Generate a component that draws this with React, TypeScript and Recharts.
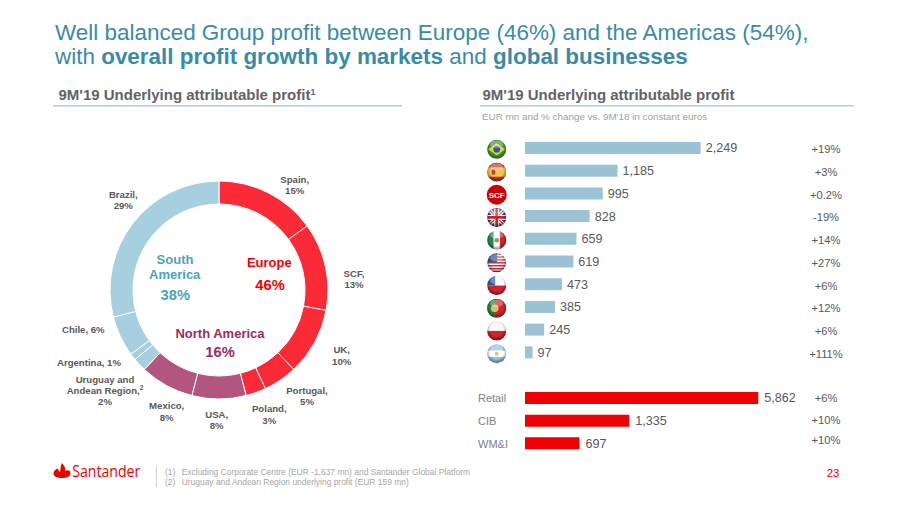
import { PieChart, Pie, Cell, BarChart, Bar, XAxis, YAxis, LabelList } from 'recharts'

const regions = ['Spain', 'SCF', 'UK', 'Portugal', 'Poland', 'USA', 'Mexico', 'Uruguay and Andean Region', 'Argentina', 'Chile', 'Brazil']
const regionShares = [15, 13, 10, 5, 3, 8, 8, 2, 1, 6, 29]
const regionColors = ['#fb2a37', '#fb2a37', '#fb2a37', '#fb2a37', '#fb2a37', '#b25680', '#b25680', '#a6cfe0', '#a6cfe0', '#a6cfe0', '#a6cfe0']

const markets = ['Brazil', 'Spain', 'SCF', 'UK', 'Mexico', 'USA', 'Chile', 'Portugal', 'Poland', 'Argentina']
const marketProfit = [2249, 1185, 995, 828, 659, 619, 473, 385, 245, 97]
const marketChange = ['+19%', '+3%', '+0.2%', '-19%', '+14%', '+27%', '+6%', '+12%', '+6%', '+111%']

const businesses = ['Retail', 'CIB', 'WM&I']
const businessProfit = [5862, 1335, 697]
const businessChange = ['+6%', '+10%', '+10%']

// the slide cuts the Retail bar short, so the long bar stops here and keeps its real label
const barCap = 2987
const axisMax = 4238

const pieData = regions.map((name, i) => ({ name, value: regionShares[i] }))
const marketData = markets.map((name, i) => ({ name, value: marketProfit[i], change: marketChange[i] }))
const businessData = businesses.map((name, i) => ({
  name,
  value: businessProfit[i],
  shown: Math.min(businessProfit[i], barCap),
  change: businessChange[i],
}))

const TEAL = '#3a8ba6'
const GREY = '#595959'
const LINE = '#a9d0dd'

function Flag({ name }: { name: string }) {
  const r = 9.5
  const id = name.replace(/\W/g, '')
  let art = null
  if (name === 'Brazil') {
    art = (
      <>
        <rect x={-r} y={-r} width={19} height={19} fill="#3f9a36" />
        <polygon points="-8.5,0 0,-6 8.5,0 0,6" fill="#e8d534" />
        <circle r={3.4} fill="#2f5aa5" />
      </>
    )
  } else if (name === 'Spain') {
    art = (
      <>
        <rect x={-r} y={-r} width={19} height={19} fill="#c8352c" />
        <rect x={-r} y={-4.7} width={19} height={9.4} fill="#f2c14e" />
        <rect x={-5} y={-2.5} width={3.5} height={5} fill="#b8432f" />
      </>
    )
  } else if (name === 'UK') {
    art = (
      <>
        <rect x={-r} y={-r} width={19} height={19} fill="#2a3f7a" />
        <path d="M-9.5 -9.5 L9.5 9.5 M9.5 -9.5 L-9.5 9.5" stroke="#fff" strokeWidth={3.4} />
        <path d="M-9.5 -9.5 L9.5 9.5 M9.5 -9.5 L-9.5 9.5" stroke="#c8202f" strokeWidth={1.2} />
        <path d="M0 -9.5 V9.5 M-9.5 0 H9.5" stroke="#fff" strokeWidth={5} />
        <path d="M0 -9.5 V9.5 M-9.5 0 H9.5" stroke="#c8202f" strokeWidth={2.8} />
      </>
    )
  } else if (name === 'Mexico') {
    art = (
      <>
        <rect x={-r} y={-r} width={19} height={19} fill="#fff" />
        <rect x={-r} y={-r} width={6.3} height={19} fill="#1f8a4c" />
        <rect x={3.2} y={-r} width={6.3} height={19} fill="#d2232a" />
        <circle r={2.3} fill="#a58a5c" />
      </>
    )
  } else if (name === 'USA') {
    art = (
      <>
        <rect x={-r} y={-r} width={19} height={19} fill="#fff" />
        {[-9.5, -6.6, -3.7, -0.8, 2.1, 5, 7.9].map((y) => (
          <rect key={y} x={-r} y={y} width={19} height={1.5} fill="#c8323c" />
        ))}
        <rect x={-r} y={-r} width={10} height={9} fill="#3b4f8f" />
      </>
    )
  } else if (name === 'Chile') {
    art = (
      <>
        <rect x={-r} y={-r} width={19} height={9.5} fill="#fff" />
        <rect x={-r} y={0} width={19} height={9.5} fill="#d2232a" />
        <rect x={-r} y={-r} width={8} height={9.5} fill="#2c5aa8" />
      </>
    )
  } else if (name === 'Portugal') {
    art = (
      <>
        <rect x={-r} y={-r} width={19} height={19} fill="#d2232a" />
        <rect x={-r} y={-r} width={7.5} height={19} fill="#1f8a3c" />
        <circle cx={-2} r={3.8} fill="#e6c04a" />
        <circle cx={-2} r={1.9} fill="#b9b9c9" />
      </>
    )
  } else if (name === 'Poland') {
    art = (
      <>
        <rect x={-r} y={-r} width={19} height={9.5} fill="#f4f4f4" />
        <rect x={-r} y={0} width={19} height={9.5} fill="#d2232a" />
      </>
    )
  } else if (name === 'Argentina') {
    art = (
      <>
        <rect x={-r} y={-r} width={19} height={19} fill="#8fc4e8" />
        <rect x={-r} y={-3.2} width={19} height={6.4} fill="#fff" />
        <circle r={2} fill="#e9c64f" />
      </>
    )
  }
  return (
    <g>
      <defs>
        <clipPath id={`clip-${id}`}>
          <circle r={r} />
        </clipPath>
        <radialGradient id={`shade-${id}`} cx="50%" cy="42%" r="55%">
          <stop offset="65%" stopColor="#000" stopOpacity={0} />
          <stop offset="100%" stopColor="#000" stopOpacity={0.4} />
        </radialGradient>
      </defs>
      <g clipPath={`url(#clip-${id})`}>{art}</g>
      <circle r={r} fill={`url(#shade-${id})`} />
      <ellipse cy={-5} rx={6.5} ry={3.8} fill="#fff" opacity={0.3} />
    </g>
  )
}

function MarketTick({ y, payload }: any) {
  const name = payload.value
  if (name === 'SCF') {
    return (
      <g transform={`translate(10.7,${y + 1})`}>
        <circle r={10} fill="#cc0000" />
        <text textAnchor="middle" y={2.8} fontSize={8} fontWeight="bold" fill="#fff">SCF</text>
      </g>
    )
  }
  return (
    <g transform={`translate(10.7,${y + 1})`}>
      <Flag name={name} />
    </g>
  )
}

function BusinessTick({ y, payload }: any) {
  return (
    <text x={1} y={y} dy={4} fontSize={11} fill="#7f7f7f">{payload.value}</text>
  )
}

const businessShift = [0, -1, -3]

function ChangeLabel({ shifts }: { shifts?: number[] }) {
  return ({ x, y, height, value, index }: any) => (
    <text
      x={x + 301}
      y={y + height / 2 + 4 + (shifts ? shifts[index] : 1.3)}
      textAnchor="middle"
      fontSize={11.2}
      fill={GREY}
    >
      {value}
    </text>
  )
}

function C({ x, y, children, size = 9.6, fill = GREY }: any) {
  return (
    <text x={x} y={y} textAnchor="middle" fontSize={size} fontWeight="bold" fill={fill}>{children}</text>
  )
}

function Slide() {
  return (
    <svg width={900} height={506} style={{ position: 'absolute', left: 0, top: 0 }}>
      <text x={55} y={39.5} fontSize={22.46} fill={TEAL}>Well balanced Group profit between Europe (46%) and the Americas (54%),</text>
      <text x={55} y={63.5} fontSize={22.46} fill={TEAL}>
        with <tspan fontWeight="bold">overall profit growth by markets</tspan> and <tspan fontWeight="bold">global businesses</tspan>
      </text>

      <text x={58.5} y={100} fontSize={15} fontWeight="bold" fill="#636363">
        9M'19 Underlying attributable profit<tspan fontSize={9} dy={-5}>1</tspan>
      </text>
      <text x={482.5} y={99.5} fontSize={15} fontWeight="bold" fill="#636363">9M'19 Underlying attributable profit</text>
      <line x1={53} x2={402} y1={105.7} y2={105.7} stroke={LINE} strokeWidth={1.5} />
      <line x1={480} x2={854} y1={105.7} y2={105.7} stroke={LINE} strokeWidth={1.5} />
      <text x={482} y={120} fontSize={9.85} fill="#a0a0a0">EUR mn and % change vs. 9M'18 in constant euros</text>

      <C x={294.7} y={182.7}>Spain,</C>
      <C x={294.7} y={194.3}>15%</C>
      <C x={123.3} y={197.7}>Brazil,</C>
      <C x={123.3} y={209}>29%</C>
      <C x={354} y={277.3}>SCF,</C>
      <C x={354} y={288.3}>13%</C>
      <C x={83.3} y={333.3}>Chile, 6%</C>
      <C x={89} y={366}>Argentina, 1%</C>
      <C x={341.7} y={353.3}>UK,</C>
      <C x={341.7} y={364.7}>10%</C>
      <C x={105} y={383.3}>Uruguay and</C>
      <C x={105} y={394}>Andean Region,<tspan fontSize={6.5} dy={-4}>2</tspan></C>
      <C x={105} y={405}>2%</C>
      <C x={307} y={394}>Portugal,</C>
      <C x={307} y={405.3}>5%</C>
      <C x={269.3} y={412.3}>Poland,</C>
      <C x={269.3} y={424}>3%</C>
      <C x={216.7} y={417.7}>USA,</C>
      <C x={216.7} y={429.3}>8%</C>
      <C x={166.7} y={409.3}>Mexico,</C>
      <C x={166.7} y={421}>8%</C>

      <C x={175} y={264} size={13} fill="#4ba3bd">South</C>
      <C x={174.7} y={279.3} size={13} fill="#4ba3bd">America</C>
      <C x={175.3} y={300} size={14.7} fill="#4ba3bd">38%</C>
      <C x={269.3} y={266.7} size={13} fill="#f40000">Europe</C>
      <C x={270} y={290} size={14.7} fill="#f40000">46%</C>
      <C x={220} y={338} size={13} fill="#9e2a63">North America</C>
      <C x={220} y={356.7} size={14.7} fill="#9e2a63">16%</C>

      <path
        d="M62 463 C64 466 66 468 65 471 C69 469 70.5 471 70.5 473.5 C70.5 476.5 66.5 478 62 478 C57.5 478 53.5 476.5 53.5 473.5 C53.5 471 55 469.5 58 468.5 C58 470 59 471 60 472 C61 469 60 466 62 463 Z"
        fill="#ec0000"
      />
      <text x={72.3} y={476.7} fontSize={15.5} fontFamily="Open Sans" fill="#ec0000" textLength={68} lengthAdjust="spacingAndGlyphs">Santander</text>
      <line x1={156.3} x2={156.3} y1={466} y2={487} stroke="#cfcfcf" strokeWidth={1} />
      <text x={165} y={475} fontSize={8.45} fill="#a6a6a6">(1)</text>
      <text x={181.7} y={475} fontSize={8.45} fill="#a6a6a6">Excluding Corporate Centre (EUR -1,637 mn) and Santander Global Platform</text>
      <text x={165} y={485} fontSize={8.45} fill="#a6a6a6">(2)</text>
      <text x={181.7} y={485} fontSize={8.45} fill="#a6a6a6">Uruguay and Andean Region underlying profit (EUR 159 mn)</text>
      <text x={833} y={477.3} textAnchor="middle" fontSize={11.4} fill="#f00000">23</text>
    </svg>
  )
}

export default function App() {
  const money = (v: any) => Number(v).toLocaleString('en-US')
  return (
    <div style={{ position: 'absolute', left: 0, top: 0, width: 900, height: 506, background: '#fff', fontFamily: '"Liberation Sans", Arial, sans-serif', overflow: 'hidden' }}>
      <Slide />

      <div style={{ position: 'absolute', left: 100, top: 171 }}>
        <PieChart width={238} height={238} margin={{ top: 0, right: 0, bottom: 0, left: 0 }}>
          <Pie
            data={pieData}
            dataKey="value"
            nameKey="name"
            cx={119}
            cy={119}
            innerRadius={86}
            outerRadius={109}
            startAngle={90}
            endAngle={-270}
            stroke="#fff"
            strokeWidth={1}
            isAnimationActive={false}
          >
            {pieData.map((d, i) => (
              <Cell key={d.name} fill={regionColors[i]} />
            ))}
          </Pie>
        </PieChart>
      </div>

      <div style={{ position: 'absolute', left: 486, top: 137 }}>
        <BarChart width={370} height={227} layout="vertical" data={marketData} margin={{ top: 0, right: 0, bottom: 0, left: 0 }}>
          <XAxis type="number" hide domain={[0, axisMax]} />
          <YAxis type="category" dataKey="name" width={39} axisLine={false} tickLine={false} interval={0} tick={MarketTick} />
          <Bar dataKey="value" fill="#9cc3d5" barSize={12} isAnimationActive={false}>
            <LabelList dataKey="value" position="right" offset={5} fontSize={12.6} fill={GREY} formatter={money} />
            <LabelList dataKey="change" content={ChangeLabel({})} />
          </Bar>
        </BarChart>
      </div>

      <div style={{ position: 'absolute', left: 477, top: 387 }}>
        <BarChart width={379} height={68} layout="vertical" data={businessData} margin={{ top: 0, right: 0, bottom: 0, left: 0 }}>
          <XAxis type="number" hide domain={[0, axisMax]} />
          <YAxis type="category" dataKey="name" width={48} axisLine={false} tickLine={false} interval={0} tick={BusinessTick} />
          <Bar dataKey="shown" fill="#f00000" barSize={12} isAnimationActive={false}>
            <LabelList dataKey="value" position="right" offset={6} fontSize={12.6} fill={GREY} formatter={money} />
            <LabelList dataKey="change" content={ChangeLabel({ shifts: businessShift })} />
          </Bar>
        </BarChart>
      </div>
    </div>
  )
}
